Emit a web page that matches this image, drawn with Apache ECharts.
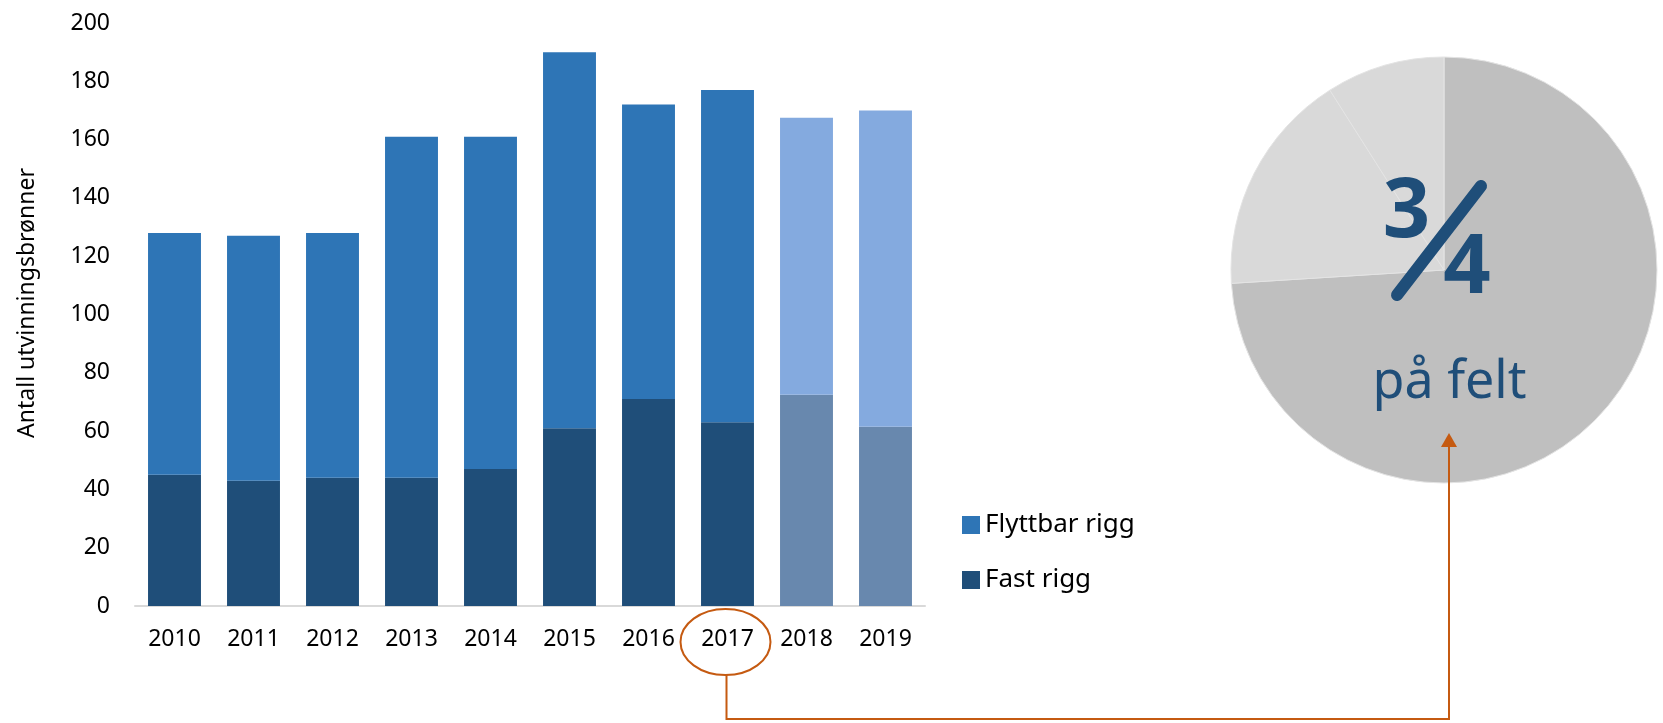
<!DOCTYPE html>
<html>
<head>
<meta charset="utf-8">
<script src="https://cdn.jsdelivr.net/npm/echarts@6/dist/echarts.min.js"></script>
<style>
html,body{margin:0;padding:0;background:#fff;}
#chart{width:1663px;height:723px;}
</style>
</head>
<body>
<div id="chart"></div>
<script>
// ---- data ----
const years = ['2010','2011','2012','2013','2014','2015','2016','2017','2018','2019'];
const fastRigg = [45, 43, 44, 44, 47, 61, 71, 63, 72.5, 61.5];
const flyttbarRigg = [83, 84, 84, 117, 114, 129, 101, 114, 95, 108.5];
const forecastYears = ['2018', '2019'];
const yTicks = [0, 20, 40, 60, 80, 100, 120, 140, 160, 180, 200];
const pieValues = [74, 17, 9];
const pieNames = ['på felt', 'andre', 'øvrige'];
const highlightYear = '2017';

// ---- styles ----
const FONT = '"Noto Sans", "Open Sans", sans-serif';
const C_FLYTT = '#2E75B6', C_FAST = '#1F4E79';
const C_FLYTT_F = '#84AADF', C_FAST_F = '#6888AE';
const ORANGE = '#C55A11';

function styled(values, normal, fc) {
  return values.map((v, i) => ({
    value: v,
    itemStyle: { color: forecastYears.includes(years[i]) ? fc : normal }
  }));
}

const chart = echarts.init(document.getElementById('chart'), null, {renderer: 'canvas'});

const grid = {left: 135, right: 738, top: 23, bottom: 117};

const option = {
  animation: false,
  backgroundColor: '#fff',
  grid: grid,
  legend: {
    orient: 'vertical',
    left: 957,
    top: 507,
    itemWidth: 18,
    itemHeight: 18,
    itemGap: 29,
    icon: 'rect',
    textStyle: {fontFamily: FONT, fontSize: 26, color: '#000', lineHeight: 26, padding: [0, 0, 0, 0]},
    data: ['Flyttbar rigg', 'Fast rigg'],
    selectedMode: false
  },
  xAxis: {
    type: 'category',
    data: years,
    axisLine: {lineStyle: {color: '#D9D9D9', width: 2}},
    axisTick: {show: false},
    axisLabel: {fontFamily: FONT, fontSize: 23, color: '#000', margin: 22}
  },
  yAxis: {
    type: 'value',
    min: yTicks[0],
    max: yTicks[yTicks.length - 1],
    interval: yTicks[1] - yTicks[0],
    axisLine: {show: false},
    axisTick: {show: false},
    splitLine: {show: false},
    axisLabel: {fontFamily: FONT, fontSize: 23, color: '#000', margin: 25}
  },
  series: [
    {
      name: 'Fast rigg',
      type: 'bar',
      stack: 'total',
      barCategoryGap: '33%',
      itemStyle: {color: C_FAST},
      data: styled(fastRigg, C_FAST, C_FAST_F),
      silent: true
    },
    {
      name: 'Flyttbar rigg',
      type: 'bar',
      stack: 'total',
      barCategoryGap: '33%',
      itemStyle: {color: C_FLYTT},
      data: styled(flyttbarRigg, C_FLYTT, C_FLYTT_F),
      silent: true
    },
    {
      type: 'pie',
      center: [1444, 270],
      radius: [0, 213],
      startAngle: 90,
      clockwise: true,
      label: {show: false},
      labelLine: {show: false},
      silent: true,
      itemStyle: {borderColor: '#e4e4e4', borderWidth: 1},
      data: pieValues.map((v, i) => ({
        value: v, name: pieNames[i],
        itemStyle: {color: i === 0 ? '#BFBFBF' : '#D9D9D9'}
      }))
    }
  ]
};

chart.setOption(option);

// connector from the highlighted year to the pie, positioned via the axis scale
const idx = years.indexOf(highlightYear);
const cx = chart.convertToPixel({xAxisIndex: 0}, idx);
const ellipseCy = 642, rx = 45, ry = 33;
const lineY = 719, pieX = 1449, tipY = 433;
chart.setOption({
  graphic: [
    {
      type: 'text', x: 27, y: 303, rotation: Math.PI / 2, z: 100,
      style: {text: 'Antall utvinningsbrønner', fontFamily: FONT, fontSize: 23, fill: '#000', align: 'center', verticalAlign: 'middle'}
    },
    {
      type: 'line', z: 100,
      shape: {x1: 1481, y1: 186, x2: 1397, y2: 295},
      style: {stroke: C_FAST, lineWidth: 12, lineCap: 'round'}
    },
    {
      type: 'text', x: 1406.5, y: 213, z: 101,
      style: {text: '3', fontFamily: FONT, fontWeight: 'bold', fontSize: 83, fill: C_FAST, align: 'center', verticalAlign: 'middle'}
    },
    {
      type: 'text', x: 1467, y: 269, z: 101,
      style: {text: '4', fontFamily: FONT, fontWeight: 'bold', fontSize: 83, fill: C_FAST, align: 'center', verticalAlign: 'middle'}
    },
    {
      type: 'text', x: 1449.5, y: 383, z: 100,
      style: {text: 'på felt', fontFamily: FONT, fontSize: 52, fill: C_FAST, align: 'center', verticalAlign: 'middle'}
    },
    {
      type: 'ellipse', z: 100,
      shape: {cx: cx - 2, cy: ellipseCy, rx: rx, ry: ry},
      style: {fill: 'none', stroke: ORANGE, lineWidth: 2}
    },
    {
      type: 'polyline', z: 100,
      shape: {points: [[cx - 1, ellipseCy + ry], [cx - 1, lineY], [pieX, lineY], [pieX, tipY + 12]]},
      style: {fill: 'none', stroke: ORANGE, lineWidth: 2}
    },
    {
      type: 'polygon', z: 100,
      shape: {points: [[pieX, tipY], [pieX - 8, tipY + 14], [pieX + 8, tipY + 14]]},
      style: {fill: ORANGE}
    }
  ]
});
</script>
</body>
</html>
